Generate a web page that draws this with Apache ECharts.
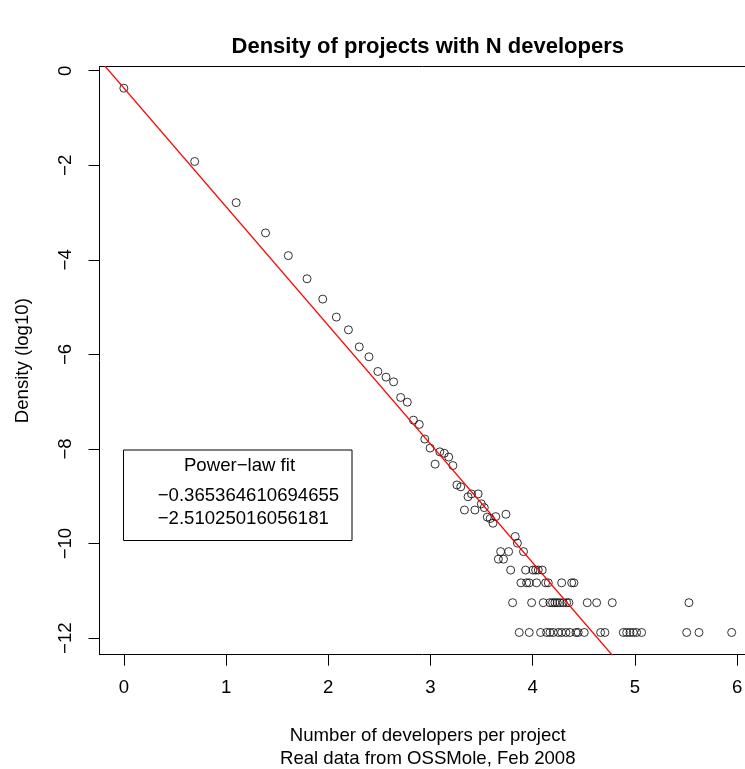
<!DOCTYPE html>
<html><head><meta charset="utf-8">
<script src="https://cdn.jsdelivr.net/npm/echarts@6/dist/echarts.min.js"></script>
<style>html,body{margin:0;padding:0;background:#fff}#c{width:745px;height:769px}</style>
</head><body><div id="c"></div>
<script>
// ---- data ----
const chartTitle = 'Density of projects with N developers';
const xTitleLines = ['Number of developers per project', 'Real data from OSSMole, Feb 2008'];
const yTitle = 'Density (log10)';
const xTicks = [0, 1, 2, 3, 4, 5, 6];
const yTicks = [0, -2, -4, -6, -8, -10, -12];

// main descending sequence of points
const mainX = [0, 0.693, 1.099, 1.386, 1.609, 1.792, 1.946, 2.079, 2.197, 2.303, 2.398, 2.485, 2.565, 2.639, 2.708, 2.773, 2.833, 2.890, 2.944, 2.996, 3.045, 3.091, 3.135, 3.178, 3.219, 3.258, 3.296, 3.332, 3.367, 3.401, 3.434, 3.466, 3.497, 3.526, 3.555, 3.584, 3.611, 3.638, 3.738, 3.829, 3.850];
const mainY = [-0.37, -1.92, -2.79, -3.43, -3.91, -4.40, -4.83, -5.21, -5.48, -5.84, -6.05, -6.36, -6.48, -6.58, -6.91, -7.01, -7.39, -7.48, -7.79, -7.98, -8.32, -8.06, -8.09, -8.17, -8.35, -8.76, -8.80, -9.29, -9.01, -8.95, -9.29, -8.95, -9.16, -9.24, -9.44, -9.47, -9.57, -9.43, -9.38, -9.85, -9.99];

// discrete low-count levels (tail)
const rowY = [-10.17, -10.33, -10.56, -10.83, -11.25, -11.88];
const rowX0 = [3.686, 3.764, 3.910];
const rowX1 = [3.664, 3.714];
const rowX2 = [3.784, 3.930, 4.002, 4.028, 4.054, 4.093];
const rowX3 = [3.885, 3.940, 3.966, 4.038, 4.126, 4.152, 4.283, 4.381, 4.403];
const rowX4 = [3.803, 3.989, 4.103, 4.168, 4.194, 4.217, 4.240, 4.266, 4.298, 4.332, 4.354, 4.533, 4.625, 4.778, 5.528];
const rowX5 = [3.868, 3.966, 4.077, 4.136, 4.168, 4.201, 4.250, 4.283, 4.325, 4.364, 4.423, 4.445, 4.504, 4.664, 4.706, 4.886, 4.919, 4.951, 4.984, 5.016, 5.065, 5.506, 5.626, 5.946];
const rowX = [rowX0, rowX1, rowX2, rowX3, rowX4, rowX5];

// power-law fit coefficients
const fitIntercept = -0.365364610694655;
const fitSlope = -2.51025016056181;
const legendTitle = 'Power\u2212law fit';

// ---- build ----
const FONT = '"Liberation Sans", Arial, Helvetica, sans-serif';
const FS = 18.6;
const fmt = v => (v < 0 ? '\u2212' + Math.abs(v) : String(v));

const pts = [];
mainX.forEach((x, i) => pts.push([x, mainY[i]]));
rowY.forEach((y, r) => rowX[r].forEach(x => pts.push([x, y])));

// plot region (the original box extends past the right edge of the window)
const xMin = -0.238, xMax = 6.184, yMin = -12.35, yMax = 0.085;
const fitLine = [[xMin, fitIntercept + fitSlope * xMin], [xMax, fitIntercept + fitSlope * xMax]];

const axisText = {color: '#000', fontSize: FS, fontFamily: FONT};
const chart = echarts.init(document.getElementById('c'), null, {renderer: 'canvas'});
const option = {
  animation: false,
  backgroundColor: '#fff',
  grid: {left: 99.5, top: 66.7, width: 656.5, height: 588, show: false, containLabel: false, outerBoundsMode: 'none'},
  xAxis: [{
    type: 'value', min: xMin, max: xMax, position: 'bottom',
    splitLine: {show: false},
    axisLine: {show: true, onZero: false, lineStyle: {color: '#000', width: 1}},
    axisTick: {show: true, customValues: xTicks, length: 11, lineStyle: {color: '#000', width: 1}},
    axisLabel: Object.assign({customValues: xTicks, margin: 24, formatter: fmt}, axisText),
    name: xTitleLines.join('\n'), nameLocation: 'middle', nameGap: 70,
    nameTextStyle: Object.assign({lineHeight: 22.5}, axisText)
  }, {
    type: 'value', min: xMin, max: xMax, position: 'top',
    splitLine: {show: false},
    axisLine: {show: true, onZero: false, lineStyle: {color: '#000', width: 1}},
    axisTick: {show: false}, axisLabel: {show: false}
  }],
  yAxis: {
    type: 'value', min: yMin, max: yMax,
    splitLine: {show: false},
    axisLine: {show: true, onZero: false, lineStyle: {color: '#000', width: 1}},
    axisTick: {show: true, customValues: yTicks, length: 11, lineStyle: {color: '#000', width: 1}},
    axisLabel: Object.assign({customValues: yTicks, margin: 24, rotate: 90, formatter: fmt}, axisText),
    name: yTitle, nameLocation: 'middle', nameGap: 67, nameRotate: 90,
    nameTextStyle: axisText
  },
  series: [
    {type: 'scatter', data: pts, symbol: 'circle', symbolSize: 8,
     itemStyle: {color: 'rgba(0,0,0,0)', borderColor: '#000', borderWidth: 1}, z: 3},
    {type: 'line', data: fitLine, showSymbol: false, clip: true,
     lineStyle: {color: '#ff0000', width: 1.3}, z: 4}
  ],
  graphic: [
    {type: 'text', x: 427.75, y: 47, z: 10,
     style: {text: chartTitle, fill: '#000', font: 'bold 22px ' + FONT, align: 'center', verticalAlign: 'middle', textAlign: 'center', textVerticalAlign: 'middle'}},
    {type: 'rect', shape: {x: 123.5, y: 450, width: 228.5, height: 90.5}, z: 10,
     style: {fill: '#fff', stroke: '#000', lineWidth: 1}},
    {type: 'text', x: 239.5, y: 466, z: 11,
     style: {text: legendTitle, fill: '#000', font: FS + 'px ' + FONT, align: 'center', verticalAlign: 'middle', textAlign: 'center', textVerticalAlign: 'middle'}},
    {type: 'text', x: 157.7, y: 496, z: 11,
     style: {text: fmt(fitIntercept), fill: '#000', font: FS + 'px ' + FONT, align: 'left', verticalAlign: 'middle', textAlign: 'left', textVerticalAlign: 'middle'}},
    {type: 'text', x: 157.7, y: 519, z: 11,
     style: {text: fmt(fitSlope), fill: '#000', font: FS + 'px ' + FONT, align: 'left', verticalAlign: 'middle', textAlign: 'left', textVerticalAlign: 'middle'}}
  ]
};
chart.setOption(option);
</script></body></html>
